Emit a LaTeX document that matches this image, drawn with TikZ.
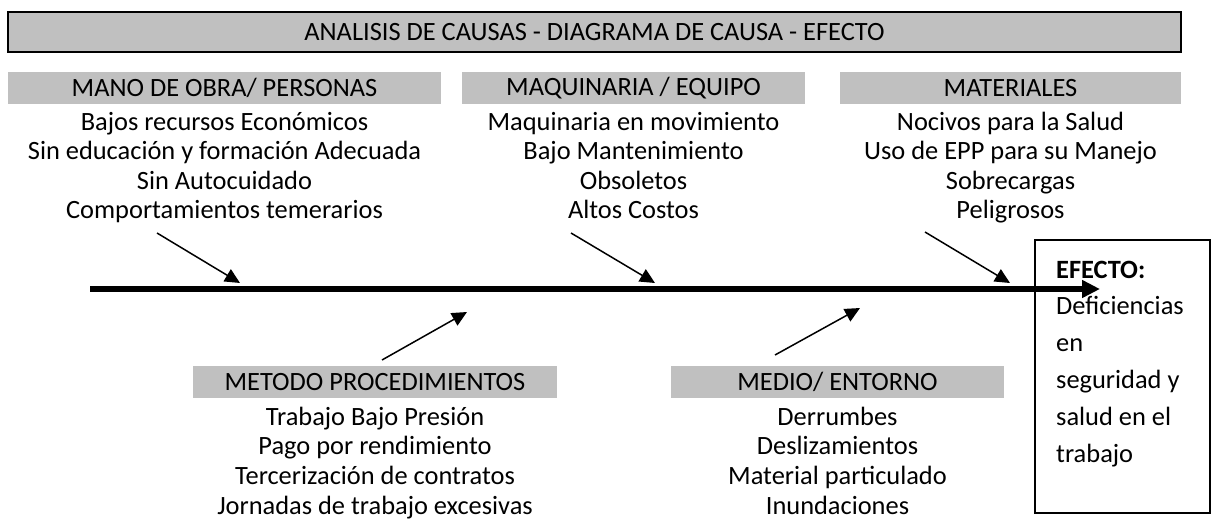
\documentclass[tikz,border=0pt]{standalone}
\usepackage{fontspec}
\setmainfont{Carlito}
\usetikzlibrary{arrows.meta}
\definecolor{grisclaro}{RGB}{192,192,192}
\tikzset{
	cabecera/.style={fill=grisclaro,inner sep=0pt,minimum height=32pt,font=\fontsize{26.4}{29}\selectfont},
	causas/.style={align=center,anchor=base,inner sep=0pt,font=\fontsize{26.4}{29.5}\selectfont},
	flecha/.style={line width=1.5pt,-{Triangle[length=15pt,width=14pt]}}
}
\begin{document}
\begin{tikzpicture}[x=1pt,y=-1pt]
	\useasboundingbox (0,0) rectangle (1212,522);
	% titulo
	\node (titulo) at (594.5,32) [cabecera,draw,line width=2pt,minimum width=1173pt,minimum height=40pt]{ANALISIS DE CAUSAS - DIAGRAMA DE CAUSA - EFECTO};
	% causas de arriba (y = linea base de la ultima linea)
	\node (mano) at (224.5,88) [cabecera,minimum width=433pt]{MANO DE OBRA/ PERSONAS};
	\node (manolista) at (224.5,218.5) [causas]{Bajos recursos Económicos\\Sin educación y formación Adecuada\\Sin Autocuidado\\Comportamientos temerarios};
	\node (maquinaria) at (633.5,88) [cabecera,minimum width=343pt]{MAQUINARIA / EQUIPO};
	\node (maquinarialista) at (633.5,218.5) [causas]{Maquinaria en movimiento\\Bajo Mantenimiento\\Obsoletos\\Altos Costos};
	\node (materiales) at (1010.5,88) [cabecera,minimum width=341pt]{MATERIALES};
	\node (materialeslista) at (1010.5,218.5) [causas]{Nocivos para la Salud\\Uso de EPP para su Manejo\\Sobrecargas\\Peligrosos};
	% causas de abajo
	\node (metodo) at (375,382) [cabecera,minimum width=364pt]{METODO PROCEDIMIENTOS};
	\node (metodolista) at (375,514.5) [causas,font=\fontsize{26.4}{29.8}\selectfont]{Trabajo Bajo Presión\\Pago por rendimiento\\Tercerización de contratos\\Jornadas de trabajo excesivas};
	\node (medio) at (837.5,382) [cabecera,minimum width=333pt]{MEDIO/ ENTORNO};
	\node (mediolista) at (837.5,514.5) [causas,font=\fontsize{26.4}{29.8}\selectfont]{Derrumbes\\Deslizamientos\\Material particulado\\Inundaciones};
	% efecto
	\node (efecto) at (1122.5,376.5) [draw,line width=1.2pt,minimum width=175pt,minimum height=273pt]{};
	\node (efectotexto) at (1056,462) [causas,anchor=base west,align=left,font=\fontsize{26.4}{36.8}\selectfont]{\textbf{EFECTO:}\\Deficiencias\\en\\seguridad y\\salud en el\\trabajo};
	% espina
	\coordinate (inicio) at (90,289);
	\coordinate (fin) at (1100,289);
	\draw[line width=5.5pt,-{Triangle[length=18pt,width=17pt]}] (inicio) -- (fin);
	\coordinate (a1) at (157,233);
	\coordinate (b1) at (240,283);
	\coordinate (a2) at (571,233);
	\coordinate (b2) at (655,283);
	\coordinate (a3) at (925,232);
	\coordinate (b3) at (1010,283);
	\coordinate (a4) at (382,360);
	\coordinate (b4) at (467,312);
	\coordinate (a5) at (775,355);
	\coordinate (b5) at (860,308);
	\draw[flecha] (a1) -- (b1);
	\draw[flecha] (a2) -- (b2);
	\draw[flecha] (a3) -- (b3);
	\draw[flecha] (a4) -- (b4);
	\draw[flecha] (a5) -- (b5);
\end{tikzpicture}
\end{document}
